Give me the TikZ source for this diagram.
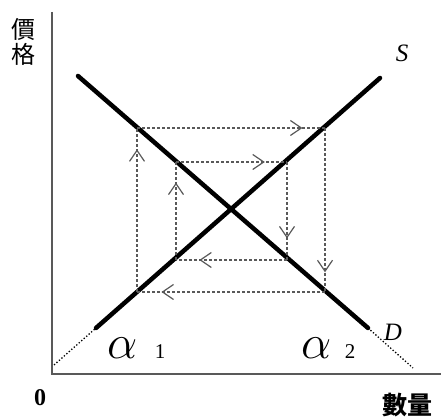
\documentclass[tikz,border=0pt]{standalone}
\usepackage{fix-cm}
\usepackage{fontspec}
\newfontfamily\cjk{Noto Sans CJK TC}
\newfontfamily\tms{Liberation Serif}
\usetikzlibrary{arrows.meta,decorations.markings}

\tikzset{
  curve/.style={line width=4.5pt,line cap=round},
  guide/.style={dotted,line width=1.3pt},
  cobweb/.style={densely dashed,draw=black!65,line width=1.2pt,
    decoration={markings,mark=at position #1 with {\arrow[black!65,line width=1.2pt,solid]{Straight Barb[length=11pt,width=15pt]}}},
    postaction={decorate}},
}

\begin{document}
\begin{tikzpicture}[x=1pt,y=1pt]
\useasboundingbox (-52,-45) rectangle (389,374);
% axes
\coordinate (O) at (0,0);
\coordinate (ytop) at (0,362);
\coordinate (xend) at (389,0);
\draw[black!65,line width=1.3pt] (ytop) -- (O) -- (xend);

% supply and demand
\coordinate (s0) at (2,9);
\coordinate (s1) at (44,46);
\coordinate (s2) at (328,296);
\coordinate (d1) at (26,298);
\coordinate (d2) at (316,46);
\coordinate (d3) at (361,6);
\draw[guide] (s0) -- (s1);
\draw[guide] (d2) -- (d3);
\draw[curve] (s1) -- (s2);
\draw[curve] (d1) -- (d2);

% cobweb
\coordinate (a1) at (85,246);
\coordinate (a2) at (273,246);
\coordinate (a3) at (273,82);
\coordinate (a4) at (85,82);
\coordinate (b1) at (124,212);
\coordinate (b2) at (235,212);
\coordinate (b3) at (235,114);
\coordinate (b4) at (124,114);
\draw[cobweb=0.88] (a1) -- (a2);
\draw[cobweb=0.88] (a2) -- (a3);
\draw[cobweb=0.87] (a3) -- (a4);
\draw[cobweb=0.87] (a4) -- (a1);
\draw[cobweb=0.8] (b1) -- (b2);
\draw[cobweb=0.78] (b2) -- (b3);
\draw[cobweb=0.79] (b3) -- (b4);
\draw[cobweb=0.79] (b4) -- (b1);

% labels
\node[align=center,inner sep=0pt,font=\cjk\fontsize{24}{25}\selectfont] (price) at (-29,332) {價\\格};
\node (qty) at (355,-31) {\cjk\bfseries\fontsize{25}{25}\selectfont 數量};
\node (zero) at (-12,-24) {\tms\bfseries\fontsize{24}{24}\selectfont 0};
\node (S) at (350,321) {\tms\itshape\fontsize{25}{25}\selectfont S};
\node (D) at (341,42) {\tms\itshape\fontsize{25}{25}\selectfont D};
\node (al1) at (71,26) {\fontsize{48}{48}\selectfont$\alpha$};
\node (n1) at (108,22) {\tms\fontsize{21}{21}\selectfont 1};
\node (al2) at (265,26) {\fontsize{48}{48}\selectfont$\alpha$};
\node (n2) at (298,22) {\tms\fontsize{21}{21}\selectfont 2};
\end{tikzpicture}
\end{document}
